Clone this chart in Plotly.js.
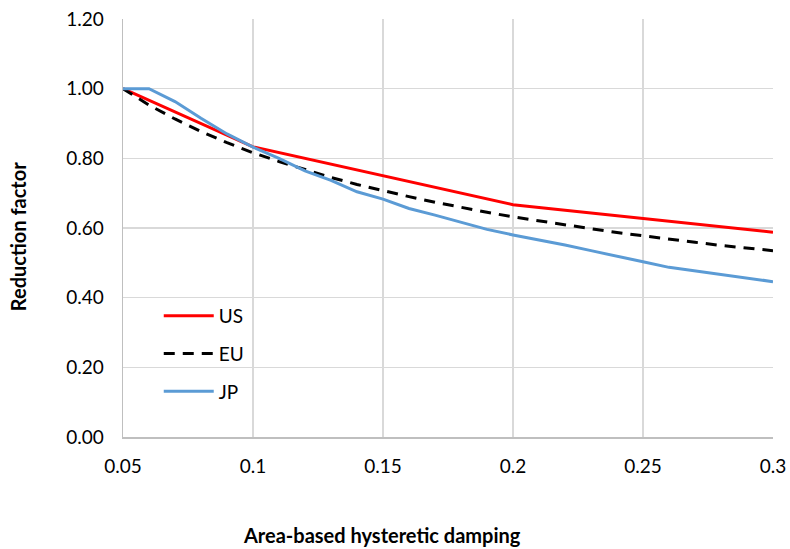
<!DOCTYPE html>
<html>
<head>
<meta charset="utf-8">
<script src="https://cdn.plot.ly/plotly-3.0.1.min.js"></script>
<style>html,body{margin:0;padding:0;background:#fff;}#chart{width:790px;height:549px;}</style>
</head>
<body>
<div id="chart"></div>
<script>
// Data
const usX = [0.05, 0.1, 0.2, 0.3];
const usY = [1.0, 0.833, 0.667, 0.588];

const stepX = [0.05,0.06,0.07,0.08,0.09,0.10,0.11,0.12,0.13,0.14,0.15,0.16,0.17,0.18,0.19,0.20,0.21,0.22,0.23,0.24,0.25,0.26,0.27,0.28,0.29,0.30];
const euY = [1.000,0.953,0.913,0.877,0.845,0.816,0.791,0.767,0.745,0.725,0.707,0.690,0.674,0.659,0.645,0.632,0.620,0.609,0.598,0.587,0.577,0.568,0.559,0.550,0.542,0.535];
const jpY = [1.000,1.000,0.963,0.915,0.870,0.832,0.800,0.764,0.737,0.704,0.683,0.656,0.637,0.617,0.596,0.580,0.566,0.551,0.535,0.518,0.503,0.487,0.477,0.467,0.457,0.446];

const seriesNames = ["US", "EU", "JP"];
const xTickVals = [0.05, 0.1, 0.15, 0.2, 0.25, 0.3];
const xTickText = ["0.05", "0.1", "0.15", "0.2", "0.25", "0.3"];
const yTickVals = [0, 0.2, 0.4, 0.6, 0.8, 1.0, 1.2];
const yTickText = ["0.00", "0.20", "0.40", "0.60", "0.80", "1.00", "1.20"];
const xTitle = "Area-based hysteretic damping";
const yTitle = "Reduction factor";

const FONT = "Lato, 'Open Sans', sans-serif";

const traces = [
  {x: usX, y: usY, name: seriesNames[0], mode: "lines", legendgroup: "a",
   line: {color: "#FF0000", width: 3}},
  {x: stepX, y: euY, name: seriesNames[1], mode: "lines", legendgroup: "b",
   line: {color: "#000000", width: 3, dash: "11px,8px"}},
  {x: stepX, y: jpY, name: seriesNames[2], mode: "lines", legendgroup: "c",
   line: {color: "#5B9BD5", width: 3}}
];

const layout = {
  width: 790, height: 549,
  margin: {l: 123, r: 17, t: 19, b: 112},
  paper_bgcolor: "#fff", plot_bgcolor: "#fff",
  font: {family: FONT, size: 19, color: "#000"},
  showlegend: true,
  legend: {x: 0.055, y: 0.335, xanchor: "left", yanchor: "top",
           bgcolor: "rgba(0,0,0,0)", font: {family: FONT, size: 19, color: "#000"},
           tracegroupgap: 10, itemwidth: 50},
  xaxis: {
    range: [0.05, 0.3], tickvals: xTickVals, ticktext: xTickText,
    showgrid: true, gridcolor: "#D9D9D9", gridwidth: 1.5,
    showline: true, linecolor: "#BFBFBF", linewidth: 1.5,
    zeroline: false, ticks: "", ticklen: 0, ticklabelstandoff: 12,
    tickfont: {family: FONT, size: 19}
  },
  yaxis: {
    range: [0, 1.2], tickvals: yTickVals, ticktext: yTickText,
    showgrid: true, gridcolor: "#D9D9D9", gridwidth: 1.5,
    showline: true, linecolor: "#BFBFBF", linewidth: 1.5,
    zeroline: false, ticks: "", ticklen: 0, ticklabelstandoff: 14,
    tickfont: {family: FONT, size: 19}
  },
  annotations: [
    {text: "<b>" + xTitle + "</b>", xref: "paper", yref: "paper", x: 0.398, y: -0.234,
     xanchor: "center", yanchor: "middle", showarrow: false,
     font: {family: FONT, size: 20, color: "#000"}},
    {text: "<b>" + yTitle + "</b>", xref: "paper", yref: "paper", x: -0.1615, y: 0.478,
     xanchor: "center", yanchor: "middle", showarrow: false, textangle: -90,
     font: {family: FONT, size: 20, color: "#000"}}
  ]
};

Plotly.newPlot("chart", traces, layout, {displayModeBar: false, staticPlot: true});
</script>
</body>
</html>
